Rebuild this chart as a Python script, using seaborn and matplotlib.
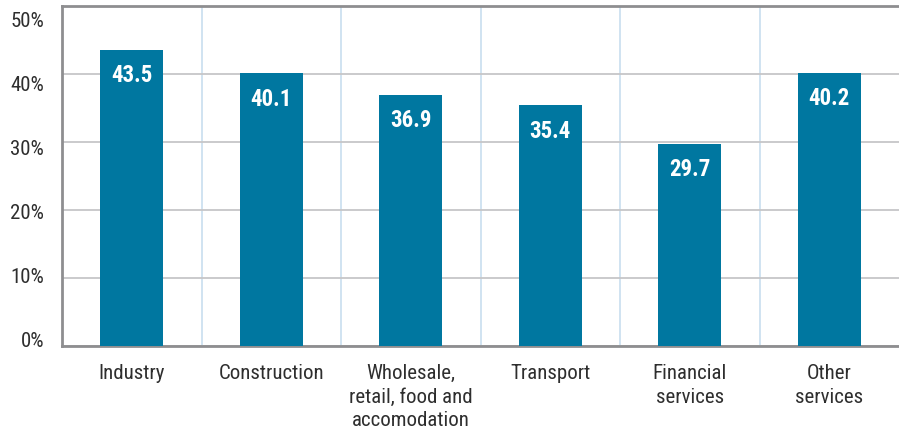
import numpy as np
import pandas as pd
import matplotlib.pyplot as plt
from matplotlib.transforms import ScaledTranslation
import seaborn as sns

sectors = ['Industry', 'Construction', 'Wholesale,\nretail, food and\naccomodation',
           'Transport', 'Financial\nservices', 'Other\nservices']
shares = [43.5, 40.1, 36.9, 35.4, 29.7, 40.2]
yticks = [0, 10, 20, 30, 40, 50]
ytick_labels = ['0%', '10%', '20%', '30%', '40%', '50%']

bar_col = '#0077a0'
spine_col = '#8e8e90'

sns.set_style('white')
plt.rcParams['font.family'] = ['Roboto Condensed', 'Liberation Sans Narrow', 'Roboto', 'DejaVu Sans']

df = pd.DataFrame({'sector': sectors, 'share': shares})

fig = plt.figure(figsize=(8.99, 4.32), dpi=100)
ax = fig.add_axes([0.069, 0.199, 0.931, 0.787])
sns.barplot(data=df, x='sector', y='share', color=bar_col, saturation=1, width=0.45,
            linewidth=0, ax=ax, zorder=3)

ax.set_ylim(0, 50)
ax.set_xlim(-0.5, len(sectors) - 0.5)
ax.set_yticks(yticks)
ax.set_yticklabels(ytick_labels)
ax.set_xlabel('')
ax.set_ylabel('')

# grid: grey horizontal, light blue vertical separators between sectors
ax.set_xticks(np.arange(0.5, len(sectors) - 0.5), minor=True)
ax.grid(axis='y', which='major', color='#c6c6c8', lw=1.3, zorder=0)
ax.grid(axis='x', which='minor', color='#cde1f0', lw=1.3, zorder=0)
ax.grid(axis='x', which='major', visible=False)
ax.set_axisbelow(True)

ax.tick_params(axis='both', which='both', length=0, labelsize=15, colors='#2e2e2e')
ax.tick_params(axis='x', pad=13)
ax.tick_params(axis='y', pad=13)
for t in ax.get_xticklabels():
    t.set_linespacing(1.3)
    t.set_verticalalignment('top')

for s in ['left', 'bottom', 'top']:
    ax.spines[s].set_color(spine_col)
    ax.spines[s].set_linewidth(2)
ax.spines['right'].set_visible(False)

for p, v in zip(ax.patches, shares):
    ax.annotate(f'{v:.1f}', (p.get_x() + p.get_width() / 2, p.get_height()),
                xytext=(0, -18.5), textcoords='offset points', ha='center', va='center',
                color='white', fontsize=16.5, fontweight='bold', zorder=4)

# the original's y labels sit on a slightly compressed scale vs the gridlines
for i, lab in enumerate(ax.get_yticklabels()):
    shift = -6.5 + 3.9 * i  # pixels downward
    lab.set_transform(lab.get_transform() + ScaledTranslation(0, -shift / 100, fig.dpi_scale_trans))

plt.savefig('out.png', dpi=100)
